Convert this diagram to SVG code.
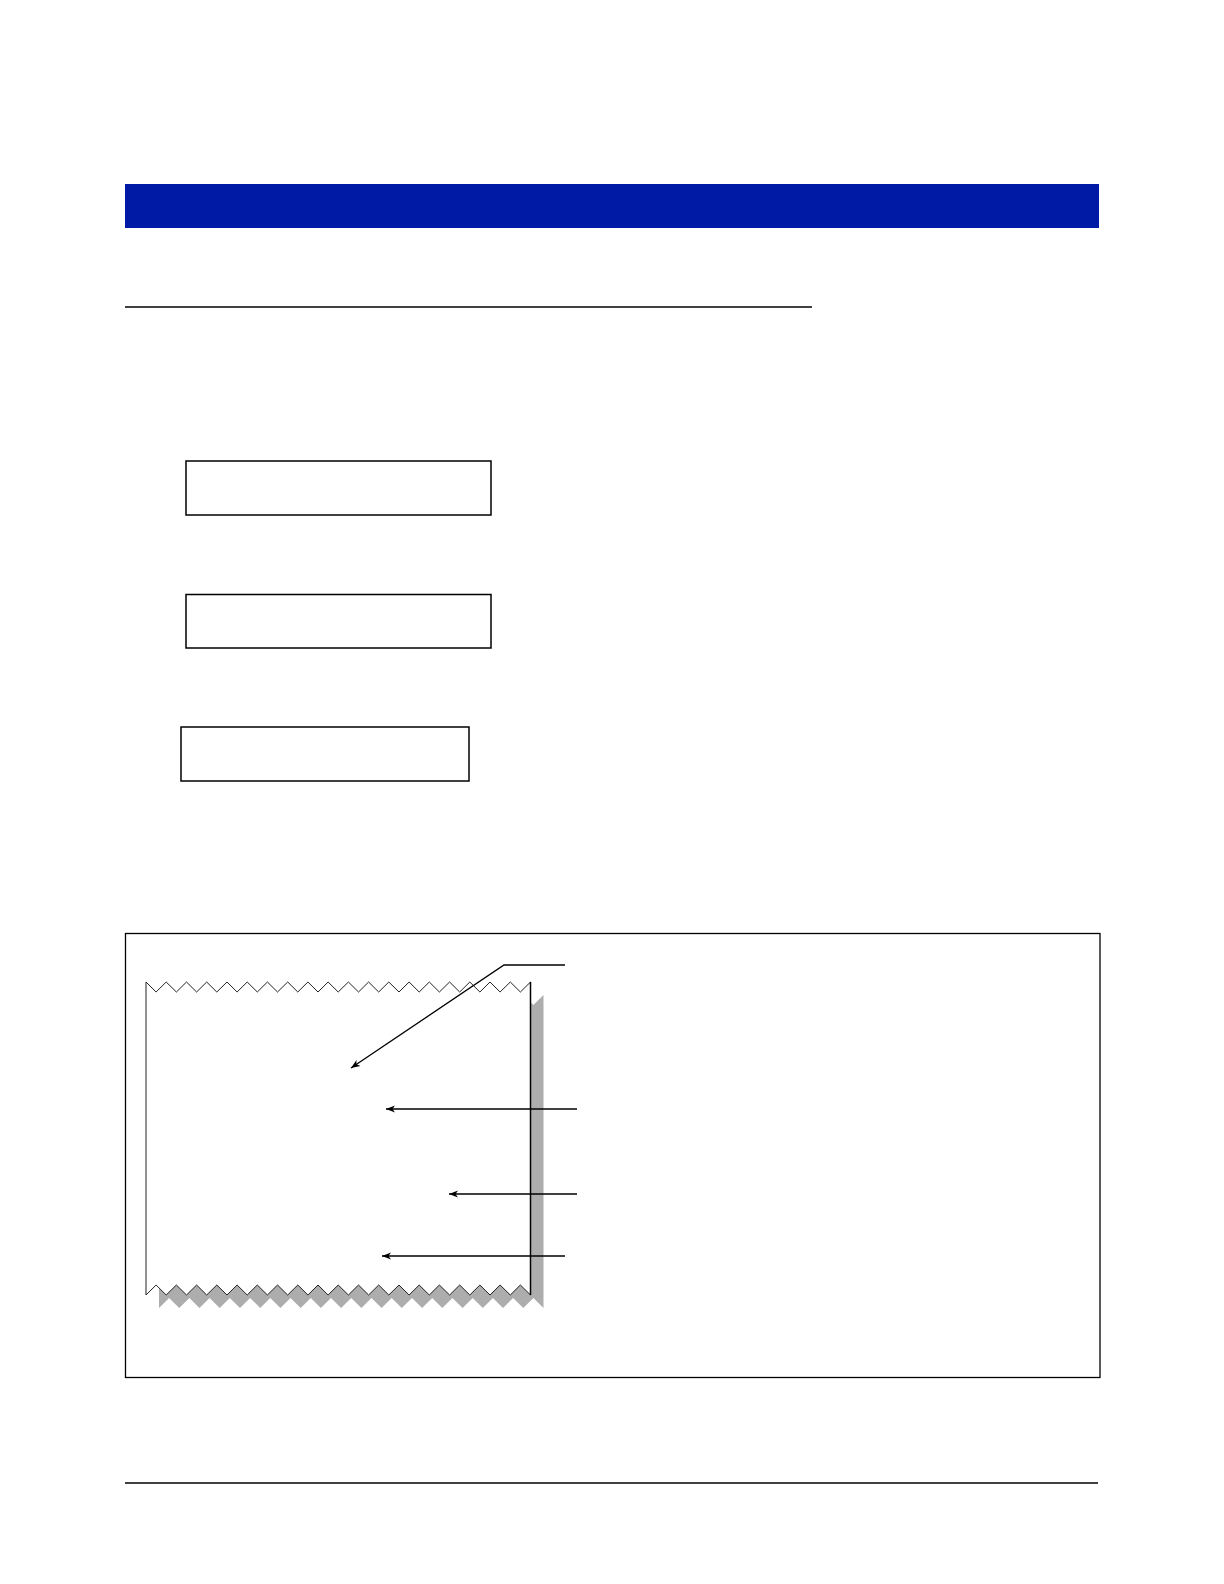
<svg xmlns="http://www.w3.org/2000/svg" width="1224" height="1584" viewBox="0 0 1224 1584">
<style>
.box{fill:#fff;stroke:#000;stroke-width:1.5}
.rule{stroke:#000;stroke-width:1.5}
.conn{fill:none;stroke:#000;stroke-width:1.3;marker-end:url(#ah)}
</style>
<defs>
<marker id="ah" markerUnits="userSpaceOnUse" markerWidth="12" markerHeight="10" viewBox="-11 -5 12 10" refX="0" refY="0" orient="auto" overflow="visible">
<path d="M0,0 L-9,-3.6 L-6.5,0 L-9,3.6 Z" fill="#000"/>
</marker>
<path id="paperShape" d="M146,982 L156.1,992 L166.2,982 L176.4,992 L186.5,982 L196.6,992 L206.7,982 L216.8,992 L227,982 L237.1,992 L247.2,982 L257.3,992 L267.4,982 L277.5,992 L287.7,982 L297.8,992 L307.9,982 L318,992 L328.1,982 L338.2,992 L348.4,982 L358.5,992 L368.6,982 L378.7,992 L388.8,982 L399,992 L409.1,982 L419.2,992 L429.3,982 L439.4,992 L449.6,982 L459.7,992 L469.8,982 L479.9,992 L490,982 L500.1,992 L510.3,982 L520.4,992 L530.5,982 L530.5,1295 L520.4,1285 L510.3,1295 L500.1,1285 L490,1295 L479.9,1285 L469.8,1295 L459.7,1285 L449.6,1295 L439.4,1285 L429.3,1295 L419.2,1285 L409.1,1295 L399,1285 L388.8,1295 L378.7,1285 L368.6,1295 L358.5,1285 L348.4,1295 L338.2,1285 L328.1,1295 L318,1285 L307.9,1295 L297.8,1285 L287.7,1295 L277.5,1285 L267.4,1295 L257.3,1285 L247.2,1295 L237.1,1285 L227,1295 L216.8,1285 L206.7,1295 L196.6,1285 L186.5,1295 L176.4,1285 L166.2,1295 L156.1,1285 L146,1295 Z"/>
</defs>
<rect width="1224" height="1584" fill="#fff"/>
<g id="header">
<rect x="125" y="184" width="974" height="44" fill="#001aa6"/>
</g>
<g id="underline">
<line class="rule" x1="125" y1="307" x2="812" y2="307"/>
</g>
<g id="box1"><rect class="box" x="186" y="461" width="305" height="54"/></g>
<g id="box2"><rect class="box" x="186" y="594.5" width="305" height="53.5"/></g>
<g id="box3"><rect class="box" x="181" y="727" width="288" height="54"/></g>
<g id="figure-frame">
<rect x="125.5" y="933.5" width="974.5" height="444" fill="none" stroke="#000" stroke-width="1.3"/>
</g>
<g id="paper">
<use href="#paperShape" transform="translate(13,13)" fill="#adadad" stroke="none"/>
<use href="#paperShape" fill="#fff" stroke="#222" stroke-width="1"/>
<line x1="530.5" y1="982" x2="530.5" y2="1295" stroke="#000" stroke-width="1.5"/>
</g>
<g id="connectors">
<polyline class="conn" points="565,965 504,965 351,1068"/>
<line class="conn" x1="577" y1="1109" x2="386" y2="1109"/>
<line class="conn" x1="577" y1="1194" x2="449" y2="1194"/>
<line class="conn" x1="565" y1="1256" x2="382" y2="1256"/>
</g>
<g id="footer">
<line class="rule" x1="125" y1="1483" x2="1098" y2="1483"/>
</g>
</svg>
